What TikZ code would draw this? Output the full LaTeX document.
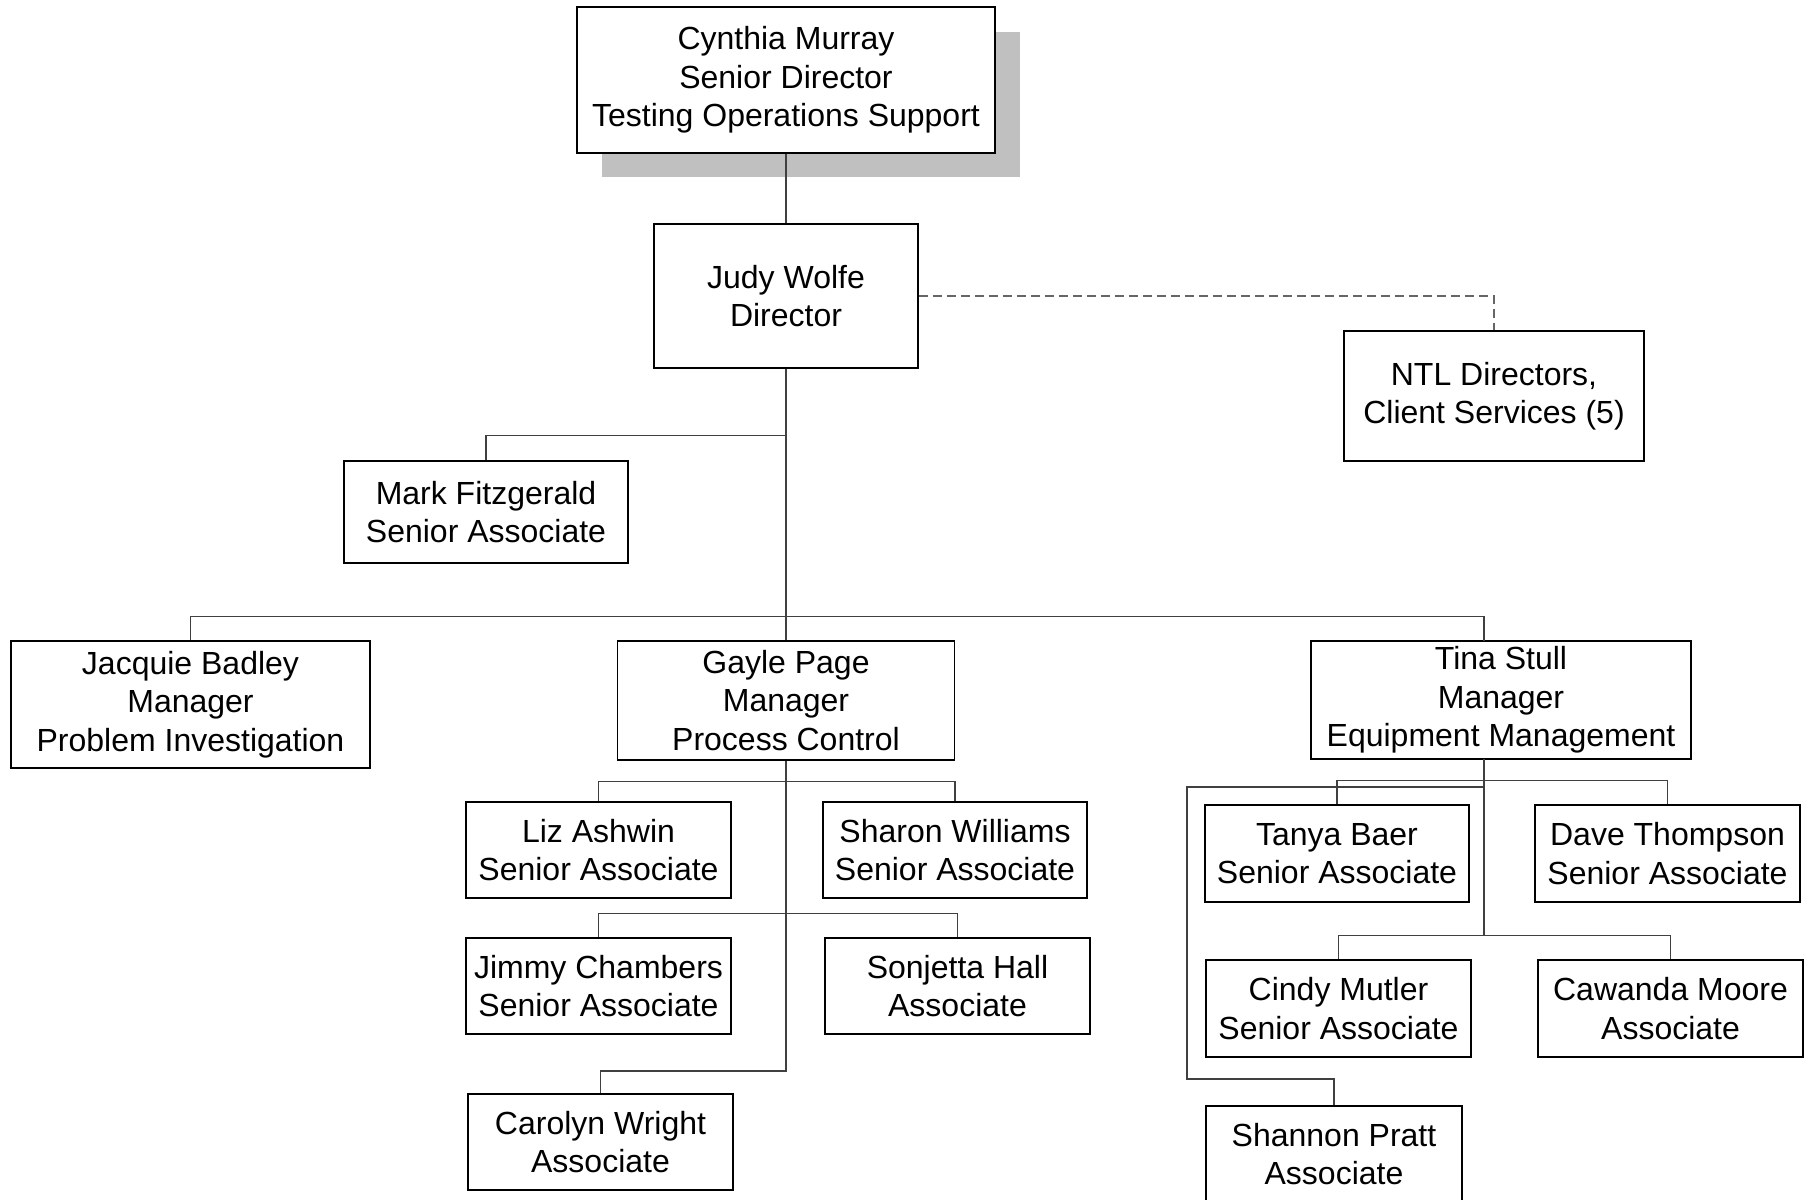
\documentclass[tikz,border=0pt]{standalone}
\usepackage{fontspec}
\setmainfont{Liberation Sans}
\definecolor{shadowgray}{HTML}{C0C0C0}
\begin{document}
\begin{tikzpicture}[x=1pt,y=-1pt,
  box/.style={draw=black, line width=1.8pt, fill=white, inner sep=0pt, align=center,
    font=\fontsize{32}{38.5}\selectfont},
  link/.style={draw=black!75, line width=1.2pt},
  dlink/.style={draw=black!60, line width=1.2pt, dash pattern=on 9pt off 5pt}]
\useasboundingbox (0,0) rectangle (1811,1199);
\clip (0,0) rectangle (1811,1199);

% shadow of top box
\fill[shadowgray] (602,32) rectangle (1020,177);

% nodes
\node[box, minimum width=418pt, minimum height=146pt] (cyn) at (786,80) {Cynthia Murray\\Senior Director\\Testing Operations Support};
\node[box, minimum width=264pt, minimum height=144pt] (judy) at (786,296) {Judy Wolfe\\Director};
\node[box, minimum width=300pt, minimum height=130pt] (ntl) at (1494,396) {NTL Directors,\\Client Services (5)};
\node[box, minimum width=284pt, minimum height=102pt] (mark) at (486,512) {Mark Fitzgerald\\Senior Associate};
\node[box, minimum width=359pt, minimum height=127pt] (jac) at (190.5,704.5) {Jacquie Badley\\Manager\\Problem Investigation};
\node[box, minimum width=337pt, minimum height=119pt] (gayle) at (786,700.5) {Gayle Page\\Manager\\Process Control};
\node[box, minimum width=380pt, minimum height=118pt] (tina) at (1501,700) {Tina Stull\\Manager\\Equipment Management};
\node[box, minimum width=265pt, minimum height=96pt] (liz) at (598.5,850) {Liz Ashwin\\Senior Associate};
\node[box, minimum width=264pt, minimum height=96pt] (sharon) at (955,850) {Sharon Williams\\Senior Associate};
\node[box, minimum width=265pt, minimum height=96pt] (jimmy) at (598.5,986) {Jimmy Chambers\\Senior Associate};
\node[box, minimum width=265pt, minimum height=96pt] (sonj) at (957.5,986) {Sonjetta Hall\\Associate};
\node[box, minimum width=265pt, minimum height=96pt] (carolyn) at (600.5,1142) {Carolyn Wright\\Associate};
\node[box, minimum width=264pt, minimum height=97pt] (tanya) at (1337,853.5) {Tanya Baer\\Senior Associate};
\node[box, minimum width=265pt, minimum height=97pt] (dave) at (1667.5,853.5) {Dave Thompson\\Senior Associate};
\node[box, minimum width=265pt, minimum height=97pt] (cindy) at (1338.5,1008.5) {Cindy Mutler\\Senior Associate};
\node[box, minimum width=265pt, minimum height=97pt] (caw) at (1670.5,1008.5) {Cawanda Moore\\Associate};
\node[box, minimum width=256pt, minimum height=96pt] (shannon) at (1334,1154) {Shannon Pratt\\Associate};

\coordinate (tinaTop) at (1484,641);
\coordinate (tinaBot) at (1484,759);

% connectors
\draw[link] (cyn.south) -- (judy.north);
\draw[dlink] (judy.east) -| (ntl.north);
\draw[link] (judy.south) -- (gayle.north);
\draw[link] (mark.north) -- ++(0,-25) -| (judy.south);
\draw[link] (jac.north) -- ++(0,-24) -| (tinaTop);

\draw[link] (gayle.south) -- ++(0,310) -| (carolyn.north);
\draw[link] (liz.north) -- ++(0,-20) -| (sharon.north);
\draw[link] (jimmy.north) -- ++(0,-24) -| (sonj.north);

\draw[link] (tinaBot) -- ++(0,177);
\draw[link] (tanya.north) -- ++(0,-24) -| (dave.north);
\draw[link] (cindy.north) -- ++(0,-24) -| (caw.north);
\draw[link] (tinaBot) ++(0,28) -- ++(-297,0) -- ++(0,292) -| (shannon.north);
\end{tikzpicture}
\end{document}
